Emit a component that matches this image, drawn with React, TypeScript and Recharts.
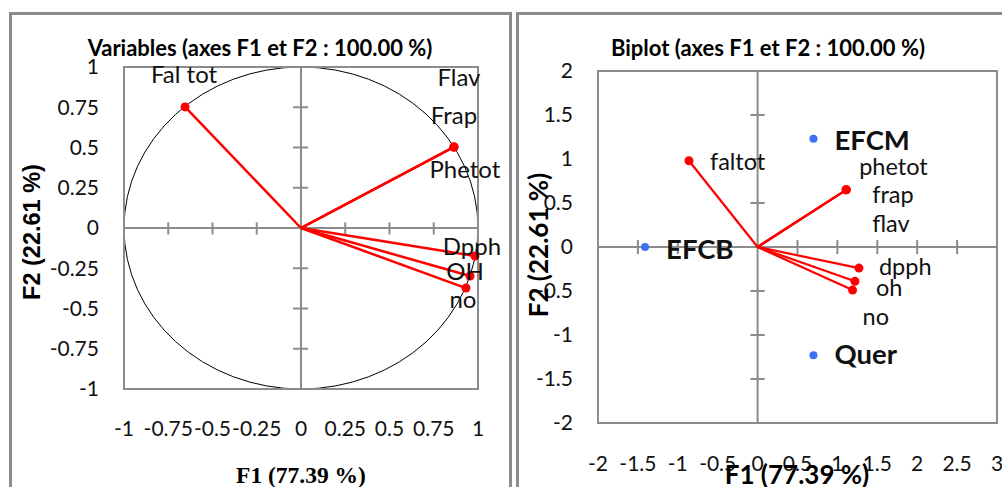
import * as R from 'recharts';

const { ScatterChart, Scatter, XAxis, YAxis, ReferenceLine, ReferenceArea, Customized } = R as any;

// correlation circle (left)
const varNames = ['Fal tot', 'Flav', 'Frap', 'Phetot', 'Dpph', 'OH', 'no'];
const varF1 = [-0.655, 0.864, 0.864, 0.864, 0.983, 0.955, 0.932];
const varF2 = [0.752, 0.503, 0.503, 0.503, -0.174, -0.298, -0.373];
const circTicks = [-1, -0.75, -0.5, -0.25, 0, 0.25, 0.5, 0.75, 1];
const circMarks = [-0.75, -0.5, -0.25, 0.25, 0.5, 0.75];

// biplot (right)
const bipVarNames = ['faltot', 'phetot', 'frap', 'flav', 'dpph', 'oh', 'no'];
const bipVarF1 = [-0.86, 1.11, 1.11, 1.11, 1.27, 1.22, 1.19];
const bipVarF2 = [0.98, 0.65, 0.65, 0.65, -0.24, -0.39, -0.49];
const obsNames = ['EFCM', 'EFCB', 'Quer'];
const obsF1 = [0.7, -1.41, 0.7];
const obsF2 = [1.23, 0.0, -1.23];
const bipXTicks = [-2, -1.5, -1, -0.5, 0, 0.5, 1, 1.5, 2, 2.5, 3];
const bipYTicks = [-2, -1.5, -1, -0.5, 0, 0.5, 1, 1.5, 2];
const bipXMarks = [-1.5, -1, -0.5, 0.5, 1, 1.5, 2, 2.5];
const bipYMarks = [-1.5, -1, -0.5, 0.5, 1, 1.5];

// label offsets in px from the point (layout only)
const leftLabelPos: Record<string, [number, number]> = {
  'Fal tot': [-1, -24],
  Flav: [5, -61],
  Frap: [0, -23],
  Phetot: [11, 31],
  Dpph: [-3, -1],
  OH: [-5, 4],
  no: [-3, 20],
};
const rightLabelPos: Record<string, [number, number]> = {
  faltot: [21, 9],
  phetot: [13, -15],
  frap: [26, 13],
  flav: [26, 42],
  dpph: [20, 7],
  oh: [21, 15],
  no: [10, 35],
  EFCM: [21, 11],
  EFCB: [21, 12],
  Quer: [21, 9],
};

const leftVars = varNames.map((name, i) => ({ name, x: varF1[i], y: varF2[i] }));
const rightVars = bipVarNames.map((name, i) => ({ name, x: bipVarF1[i], y: bipVarF2[i] }));
const rightObs = obsNames.map((name, i) => ({ name, x: obsF1[i], y: obsF2[i] }));

const FONT = 'Lato, "Open Sans", sans-serif';
const RED = '#ff0000';
const BLUE = '#3d6ff5';
const GRID = '#8c8c8c';
const tickStyle = { fontFamily: FONT, fontSize: 21, fill: '#111' };

function UnitCircle() {
  const usePlot = (R as any).usePlotArea;
  const area = usePlot ? usePlot() : null;
  if (!area) return null;
  return (
    <ellipse
      cx={area.x + area.width / 2}
      cy={area.y + area.height / 2}
      rx={area.width / 2}
      ry={area.height / 2}
      fill="none"
      stroke="#000"
      strokeWidth={1}
    />
  );
}

const LeftPoint = (props: any) => {
  const { cx, cy, payload } = props;
  const [dx, dy] = leftLabelPos[payload.name];
  return (
    <g>
      <circle cx={cx} cy={cy} r={4.5} fill={RED} />
      <text x={cx + dx} y={cy + dy} textAnchor="middle" fontFamily={FONT} fontSize={24} fill="#111">
        {payload.name}
      </text>
    </g>
  );
};

const RightVarPoint = (props: any) => {
  const { cx, cy, payload } = props;
  const [dx, dy] = rightLabelPos[payload.name];
  return (
    <g>
      <circle cx={cx} cy={cy} r={4.5} fill={RED} />
      <text x={cx + dx} y={cy + dy} fontFamily={FONT} fontSize={23.5} fill="#111">
        {payload.name}
      </text>
    </g>
  );
};

const RightObsPoint = (props: any) => {
  const { cx, cy, payload } = props;
  const [dx, dy] = rightLabelPos[payload.name];
  return (
    <g>
      <circle cx={cx} cy={cy} r={4} fill={BLUE} />
      <text x={cx + dx} y={cy + dy} fontFamily={FONT} fontSize={27.5} fontWeight="bold" fill="#111">
        {payload.name}
      </text>
    </g>
  );
};

const abs = (left: number, top: number, extra: any = {}) => ({
  position: 'absolute' as const,
  left,
  top,
  ...extra,
});

export default function App() {
  return (
    <div style={{ position: 'absolute', left: 0, top: 0, width: 1002, height: 487, overflow: 'hidden', background: '#fff' }}>
      {/* panel frames */}
      <div style={abs(9, 12, { width: 497, height: 500, border: `3px solid ${GRID}` })} />
      <div style={abs(516, 12, { width: 520, height: 500, border: `3px solid ${GRID}` })} />

      {/* left chart */}
      <div style={abs(0, 0)}>
        <ScatterChart width={512} height={487} margin={{ top: 67, right: 34, bottom: 58, left: 64 }}>
          <XAxis
            type="number"
            dataKey="x"
            domain={[-1, 1]}
            ticks={circTicks}
            interval={0}
            height={40}
            axisLine={false}
            tickLine={false}
            tickSize={0}
            tickMargin={32}
            tick={tickStyle}
          />
          <YAxis
            type="number"
            dataKey="y"
            domain={[-1, 1]}
            ticks={circTicks}
            interval={0}
            width={60}
            axisLine={false}
            tickLine={false}
            tickSize={0}
            tickMargin={25}
            tick={tickStyle}
          />
          <ReferenceArea x1={-1} x2={1} y1={-1} y2={1} fill="none" fillOpacity={0} stroke={GRID} strokeWidth={2} />
          <ReferenceLine x={0} stroke={GRID} strokeWidth={2} />
          <ReferenceLine y={0} stroke={GRID} strokeWidth={2} />
          {circMarks.map((t) => (
            <ReferenceLine key={'mx' + t} segment={[{ x: t, y: -0.04 }, { x: t, y: 0.035 }]} stroke={GRID} strokeWidth={2} />
          ))}
          {circMarks.map((t) => (
            <ReferenceLine key={'my' + t} segment={[{ x: -0.045, y: t }, { x: 0.04, y: t }]} stroke={GRID} strokeWidth={2} />
          ))}
          <Customized component={<UnitCircle />} />
          {leftVars.map((v) => (
            <ReferenceLine key={'v' + v.name} segment={[{ x: 0, y: 0 }, { x: v.x, y: v.y }]} stroke={RED} strokeWidth={2.5} />
          ))}
          <Scatter data={leftVars} shape={LeftPoint} isAnimationActive={false} />
        </ScatterChart>
      </div>

      {/* right chart */}
      <div style={abs(505, 0)}>
        <ScatterChart width={497} height={487} margin={{ top: 71, right: 5, bottom: 24, left: 33 }}>
          <XAxis
            type="number"
            dataKey="x"
            domain={[-2, 3]}
            ticks={bipXTicks}
            interval={0}
            height={40}
            axisLine={false}
            tickLine={false}
            tickSize={0}
            tickMargin={33}
            tick={tickStyle}
          />
          <YAxis
            type="number"
            dataKey="y"
            domain={[-2, 2]}
            ticks={bipYTicks}
            interval={0}
            width={60}
            axisLine={false}
            tickLine={false}
            tickSize={0}
            tickMargin={25}
            tick={tickStyle}
          />
          <ReferenceArea x1={-2} x2={3} y1={-2} y2={2} fill="none" fillOpacity={0} stroke={GRID} strokeWidth={2} />
          <ReferenceLine x={0} stroke={GRID} strokeWidth={2} />
          <ReferenceLine y={0} stroke={GRID} strokeWidth={2} />
          {bipXMarks.map((t) => (
            <ReferenceLine key={'mx' + t} segment={[{ x: t, y: -0.08 }, { x: t, y: 0.08 }]} stroke={GRID} strokeWidth={2} />
          ))}
          {bipYMarks.map((t) => (
            <ReferenceLine key={'my' + t} segment={[{ x: -0.09, y: t }, { x: 0.09, y: t }]} stroke={GRID} strokeWidth={2} />
          ))}
          {rightVars.map((v) => (
            <ReferenceLine key={'v' + v.name} segment={[{ x: 0, y: 0 }, { x: v.x, y: v.y }]} stroke={RED} strokeWidth={2.2} />
          ))}
          <Scatter data={rightVars} shape={RightVarPoint} isAnimationActive={false} />
          <Scatter data={rightObs} shape={RightObsPoint} isAnimationActive={false} />
        </ScatterChart>
      </div>

      {/* titles */}
      <div style={abs(260, 35, { transform: 'translateX(-50%)', whiteSpace: 'nowrap', fontFamily: FONT, fontWeight: 'bold', fontSize: 22, lineHeight: '26px' })}>
        Variables (axes F1 et F2 : 100.00 %)
      </div>
      <div style={abs(768, 35, { transform: 'translateX(-50%)', whiteSpace: 'nowrap', fontFamily: FONT, fontWeight: 'bold', fontSize: 22, lineHeight: '26px' })}>
        Biplot (axes F1 et F2 : 100.00 %)
      </div>

      {/* axis titles */}
      <div style={abs(301, 461, { transform: 'translateX(-50%)', whiteSpace: 'nowrap', fontFamily: '"Liberation Serif", serif', fontWeight: 'bold', fontSize: 23.5, lineHeight: '28px' })}>
        F1 (77.39 %)
      </div>
      <div style={abs(32, 232, { transform: 'translate(-50%, -50%) rotate(-90deg)', whiteSpace: 'nowrap', fontFamily: '"Liberation Sans", Arial, sans-serif', fontWeight: 'bold', fontSize: 23.5, lineHeight: '26px' })}>
        F2 (22.61 %)
      </div>
      <div style={abs(797, 459, { transform: 'translateX(-50%)', whiteSpace: 'nowrap', fontFamily: FONT, fontWeight: 'bold', fontSize: 26, lineHeight: '30px' })}>
        F1 (77.39 %)
      </div>
      <div style={abs(538, 245, { transform: 'translate(-50%, -50%) rotate(-90deg)', whiteSpace: 'nowrap', fontFamily: FONT, fontWeight: 'bold', fontSize: 26, lineHeight: '28px' })}>
        F2 (22.61 %)
      </div>
    </div>
  );
}
